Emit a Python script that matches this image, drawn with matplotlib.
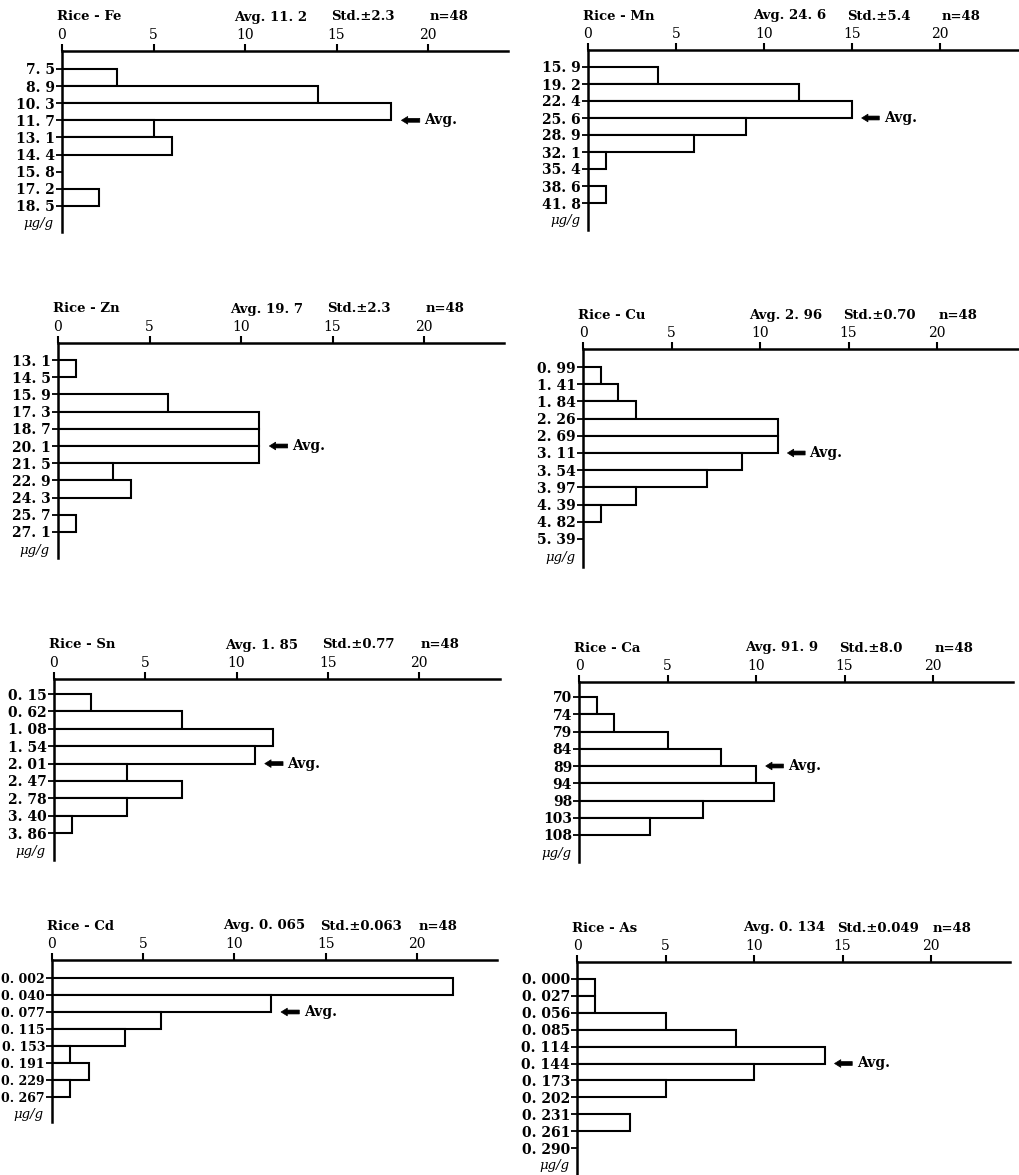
import matplotlib
matplotlib.use('Agg')
import matplotlib.pyplot as plt
import numpy as np

W, H = 1019, 1175

# ---------------- data ----------------
fe_edges = ["7. 5", "8. 9", "10. 3", "11. 7", "13. 1", "14. 4", "15. 8", "17. 2", "18. 5"]
fe_counts = [3, 14, 18, 5, 6, 0, 0, 2]

mn_edges = ["15. 9", "19. 2", "22. 4", "25. 6", "28. 9", "32. 1", "35. 4", "38. 6", "41. 8"]
mn_counts = [4, 12, 15, 9, 6, 1, 0, 1]

zn_edges = ["13. 1", "14. 5", "15. 9", "17. 3", "18. 7", "20. 1", "21. 5", "22. 9", "24. 3", "25. 7", "27. 1"]
zn_counts = [1, 0, 6, 11, 11, 11, 3, 4, 0, 1]

cu_edges = ["0. 99", "1. 41", "1. 84", "2. 26", "2. 69", "3. 11", "3. 54", "3. 97", "4. 39", "4. 82", "5. 39"]
cu_counts = [1, 2, 3, 11, 11, 9, 7, 3, 1, 0]

sn_edges = ["0. 15", "0. 62", "1. 08", "1. 54", "2. 01", "2. 47", "2. 78", "3. 40", "3. 86"]
sn_counts = [2, 7, 12, 11, 4, 7, 4, 1]

ca_edges = ["70", "74", "79", "84", "89", "94", "98", "103", "108"]
ca_counts = [1, 2, 5, 8, 10, 11, 7, 4]

cd_edges = ["0. 002", "0. 040", "0. 077", "0. 115", "0. 153", "0. 191", "0. 229", "0. 267"]
cd_counts = [22, 12, 6, 4, 1, 2, 1]

as_edges = ["0. 000", "0. 027", "0. 056", "0. 085", "0. 114", "0. 144", "0. 173", "0. 202", "0. 231", "0. 261", "0. 290"]
as_counts = [1, 1, 5, 9, 14, 10, 5, 0, 3, 0]

titles = ["Rice - Fe", "Rice - Mn", "Rice - Zn", "Rice - Cu",
          "Rice - Sn", "Rice - Ca", "Rice - Cd", "Rice - As"]
avg_texts = ["Avg. 11. 2", "Avg. 24. 6", "Avg. 19. 7", "Avg. 2. 96",
             "Avg. 1. 85", "Avg. 91. 9", "Avg. 0. 065", "Avg. 0. 134"]
std_texts = ["Std.\u00b12.3", "Std.\u00b15.4", "Std.\u00b12.3", "Std.\u00b10.70",
             "Std.\u00b10.77", "Std.\u00b18.0", "Std.\u00b10.063", "Std.\u00b10.049"]
n_texts = ["n=48"] * 8
avg_rows = [3, 3, 5, 5, 4, 4, 2, 5]
x_ticks = [0, 5, 10, 15, 20]
unit_label = "\u03bcg/g"

all_edges = [fe_edges, mn_edges, zn_edges, cu_edges, sn_edges, ca_edges, cd_edges, as_edges]
all_counts = [fe_counts, mn_counts, zn_counts, cu_counts, sn_counts, ca_counts, cd_counts, as_counts]

# ---------------- layout (pixels) ----------------
# x0, right, top line, first edge y, row spacing, axis bottom, px per count, ytick font size
geom = [
    (62, 508, 51, 69, 17.1, 232, 18.3, 10),
    (588, 1019, 50, 67, 17.0, 230, 17.6, 10),
    (58, 504, 343, 360, 17.2, 558, 18.3, 10),
    (583, 1019, 349, 367, 17.2, 567, 17.7, 10),
    (54, 500, 679, 694, 17.4, 860, 18.25, 10),
    (579, 1013, 682, 697, 17.25, 862, 17.7, 10),
    (52, 497, 960, 978, 17.0, 1122, 18.25, 9),
    (577, 1010, 962, 979, 16.9, 1175, 17.7, 10),
]

serif = ['DejaVu Serif']
fig = plt.figure(figsize=(W / 100, H / 100), dpi=100)
fig.patch.set_facecolor('white')

for i in range(8):
    x0, right, top, e0, s, bot, unit, yfs = geom[i]
    edges = all_edges[i]
    counts = all_counts[i]
    ax = fig.add_axes([x0 / W, 1 - bot / H, (right - x0) / W, (bot - top) / H])
    ax.set_xlim(0, (right - x0) / unit)
    ax.set_ylim((bot - e0) / s, -(e0 - top) / s)
    ax.patch.set_alpha(0)

    ax.barh(np.arange(len(counts)), counts, height=1, left=0, align='edge',
            color='white', edgecolor='black', linewidth=1.5, zorder=2)

    for sp in ['right', 'bottom']:
        ax.spines[sp].set_visible(False)
    for sp in ['top', 'left']:
        ax.spines[sp].set_linewidth(1.8)
        ax.spines[sp].set_zorder(3)

    ax.xaxis.tick_top()
    ax.set_xticks(x_ticks)
    ax.set_xticklabels([str(t) for t in x_ticks], fontfamily=serif, fontsize=10)
    ax.tick_params(axis='x', direction='out', length=5, width=1.5, pad=1.5)

    ax.set_yticks(np.arange(len(edges)))
    ax.set_yticklabels(edges, fontfamily=serif, fontsize=yfs, fontweight='bold')
    ax.tick_params(axis='y', direction='out', length=4, width=1.3, pad=1)

    # unit label
    ax.text(-0.45, len(edges) + 0.05, unit_label, ha='right', va='center',
            fontfamily=serif, fontstyle='italic', fontsize=9.5)

    # header row
    hdr = dict(xycoords=('data', 'axes fraction'), textcoords='offset pixels',
               ha='left', va='center', fontfamily=serif, fontsize=9.5, fontweight='bold')
    ax.annotate(titles[i], xy=(-0.3, 1), xytext=(0, 34), **hdr)
    ax.annotate(avg_texts[i], xy=(9.4, 1), xytext=(0, 34), **hdr)
    ax.annotate(std_texts[i], xy=(14.7, 1), xytext=(0, 34), **hdr)
    ax.annotate(n_texts[i], xy=(20.1, 1), xytext=(0, 34), **hdr)

    # average arrow
    k = avg_rows[i]
    tip = max(counts[k - 1], counts[k]) + 0.55
    ax.annotate('', xy=(tip, k), xytext=(tip + 1.0, k),
                arrowprops=dict(arrowstyle='simple,head_length=0.45,head_width=0.55,tail_width=0.28',
                                fc='black', ec='black', lw=0.5, shrinkA=0, shrinkB=0))
    ax.text(tip + 1.25, k, "Avg.", ha='left', va='center', fontfamily=serif,
            fontsize=10, fontweight='bold')

fig.savefig('out.png', dpi=100, facecolor='white')
